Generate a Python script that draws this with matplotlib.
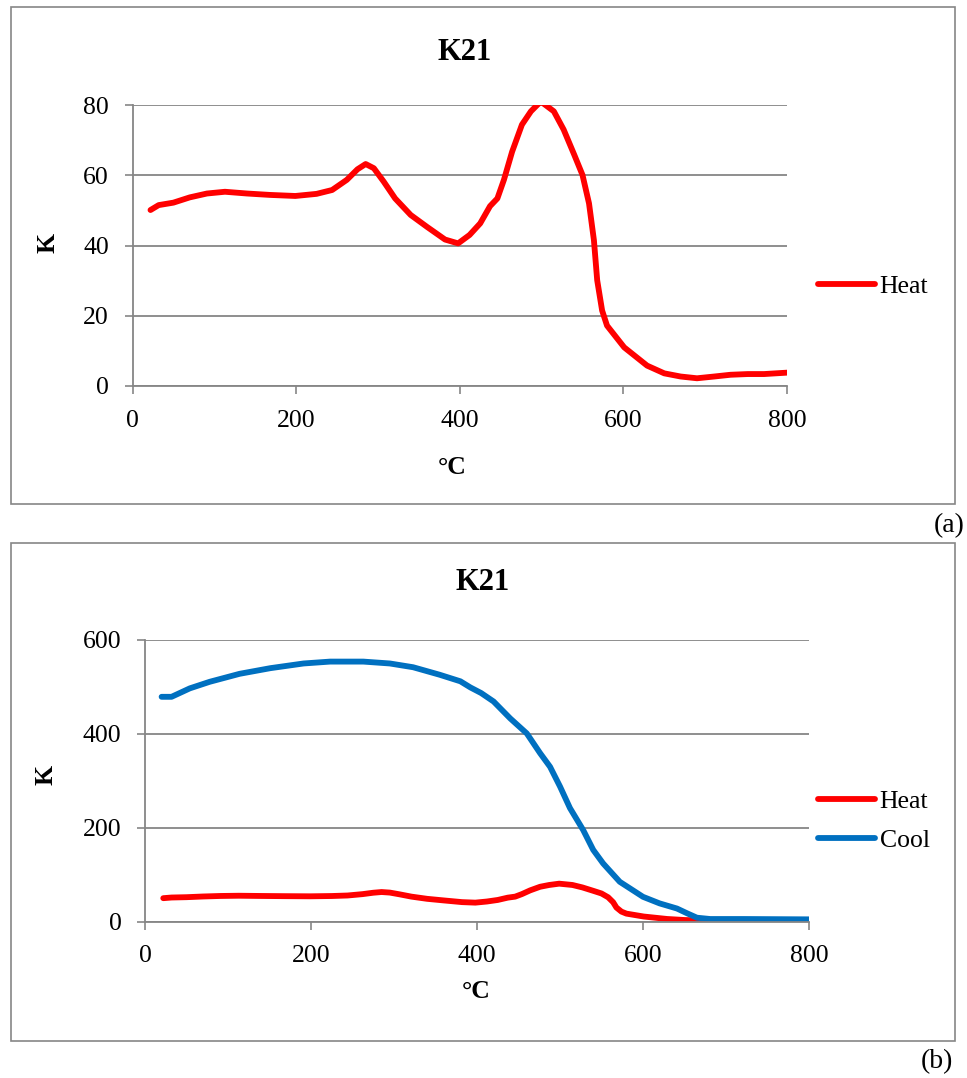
import matplotlib
matplotlib.use("Agg")
import matplotlib.pyplot as plt
from matplotlib.patches import Rectangle

# heating curve, K vs temperature
heat_t = [22, 32, 50, 70, 91, 113, 140, 168, 199, 225, 244, 262, 275, 285, 295,
          307, 321, 340, 360, 382, 398, 412, 425, 437, 446, 454, 464, 476, 487,
          499, 515, 527, 540, 550, 558, 564, 568, 574, 580, 601, 629, 650, 670,
          690, 711, 731, 752, 772, 800]
heat_k = [50.1, 51.5, 52.2, 53.7, 54.8, 55.3, 54.8, 54.4, 54.1, 54.7, 55.8, 58.7,
          61.7, 63.2, 62.0, 58.2, 53.4, 48.7, 45.3, 41.7, 40.6, 43.0, 46.3, 51.2,
          53.4, 58.7, 66.7, 74.4, 78.2, 81.0, 78.2, 73.0, 65.8, 60.1, 52.0, 41.5,
          30.1, 21.5, 17.2, 11.0, 5.8, 3.6, 2.7, 2.2, 2.7, 3.2, 3.4, 3.4, 3.8]

# cooling curve
cool_t = [20, 32, 54, 78, 114, 151, 191, 223, 263, 295, 323, 355, 380, 392, 405,
          420, 440, 460, 476, 488, 500, 512, 528, 540, 552, 572, 600, 620, 641,
          653, 665, 681, 721, 800]
cool_k = [479, 479, 497, 511, 528, 540, 550, 554, 554, 550, 542, 526, 512, 499,
          487, 469, 433, 401, 359, 330, 288, 242, 195, 153, 124, 85, 53, 39, 28,
          18, 8.5, 5.7, 5.7, 5]

x_ticks = [0, 200, 400, 600, 800]
y_ticks_a = [0, 20, 40, 60, 80]
y_ticks_b = [0, 200, 400, 600]

W, H = 967, 1078
GRAY = "#868686"
LW = 4.2

plt.rcParams["font.family"] = "Liberation Serif"


def fx(px):
    return px / W


def fy(py):
    return 1 - py / H


def style_axes(ax, yticks):
    ax.set_xlim(0, 800)
    ax.set_ylim(yticks[0], yticks[-1])
    ax.set_xticks(x_ticks)
    ax.set_yticks(yticks)
    ax.tick_params(direction="out", length=6, width=1.2, color=GRAY,
                   labelsize=18.5, pad=11)
    for s in ["top", "right"]:
        ax.spines[s].set_visible(False)
    for s in ["left", "bottom"]:
        ax.spines[s].set_color(GRAY)
        ax.spines[s].set_linewidth(1.3)
    ax.yaxis.grid(True, color=GRAY, linewidth=1.3)
    ax.set_axisbelow(True)


fig = plt.figure(figsize=(W / 100, H / 100), dpi=100)

# frames around each panel
for top, bot in [(6.7, 504), (542.7, 1040.7)]:
    fig.patches.append(Rectangle((fx(10.7), fy(bot)), fx(955) - fx(10.7),
                                 fy(top) - fy(bot), transform=fig.transFigure,
                                 fill=False, edgecolor=GRAY, linewidth=1.2))

# panel (a)
ax1 = fig.add_axes([fx(132.5), fy(386), fx(787) - fx(132.5), fy(105) - fy(386)])
ax1.plot(heat_t, heat_k, color="#FF0000", linewidth=LW, label="Heat",
         solid_capstyle="round", solid_joinstyle="round")
style_axes(ax1, y_ticks_a)
ax1.legend(loc="center left", bbox_to_anchor=(fx(818), fy(287)),
           bbox_transform=fig.transFigure, frameon=False, fontsize=18.5,
           handlelength=2.2, handletextpad=0.2, borderpad=0, borderaxespad=0)
fig.text(fx(465), fy(52), "K21", fontsize=22, fontweight="bold",
         ha="center", va="center")
fig.text(fx(48), fy(243), "K", fontsize=18.5, fontweight="bold",
         rotation=90, ha="center", va="center")
fig.text(fx(452), fy(468), "°C", fontsize=18.5, fontweight="bold",
         ha="center", va="center")
fig.text(fx(949), fy(526), "(a)", fontsize=20, ha="center", va="center")

# panel (b)
ax2 = fig.add_axes([fx(145), fy(921.7), fx(809) - fx(145), fy(640) - fy(921.7)])
ax2.plot(heat_t, heat_k, color="#FF0000", linewidth=LW, label="Heat",
         solid_capstyle="round", solid_joinstyle="round")
ax2.plot(cool_t, cool_k, color="#0070C0", linewidth=LW, label="Cool",
         solid_capstyle="round", solid_joinstyle="round")
style_axes(ax2, y_ticks_b)
ax2.legend(loc="center left", bbox_to_anchor=(fx(818), fy(821)),
           bbox_transform=fig.transFigure, frameon=False, fontsize=18.5,
           handlelength=2.2, handletextpad=0.2, borderpad=0, borderaxespad=0,
           labelspacing=0.6)
fig.text(fx(483), fy(582), "K21", fontsize=22, fontweight="bold",
         ha="center", va="center")
fig.text(fx(46), fy(775), "K", fontsize=18.5, fontweight="bold",
         rotation=90, ha="center", va="center")
fig.text(fx(476), fy(991), "°C", fontsize=18.5, fontweight="bold",
         ha="center", va="center")
fig.text(fx(937), fy(1062), "(b)", fontsize=20, ha="center", va="center")

fig.savefig("out.png", dpi=100)
